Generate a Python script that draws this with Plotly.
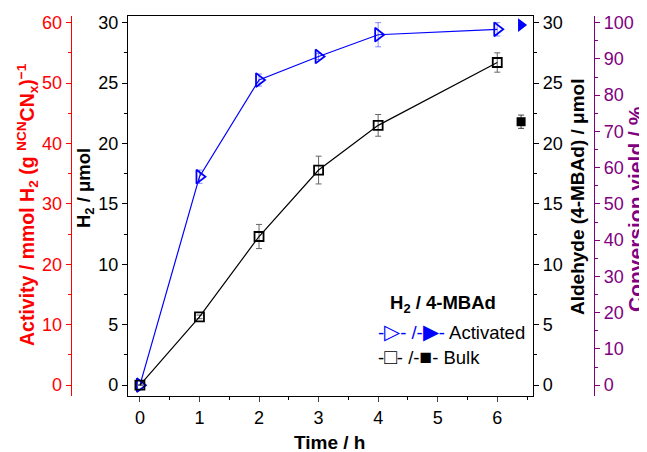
import plotly.graph_objects as go

# Data
time_h = [0, 1, 2, 3, 4, 6]
h2_activated = [0, 17.25, 25.25, 27.2, 29.0, 29.45]
h2_activated_err = [0, 0.55, 0.5, 0.25, 1.0, 0.55]
h2_bulk = [0, 5.65, 12.3, 17.8, 21.5, 26.7]
h2_bulk_err = [0, 0.15, 1.0, 1.15, 0.9, 0.8]
ald_time = [6.4]
ald_activated = [29.8]
ald_activated_err = [0.0]
ald_bulk = [21.8]
ald_bulk_err = [0.55]

OFF = 8  # page body margin
W, H = 647 - OFF, 452 - OFF
FONT = "Liberation Sans, Arial, sans-serif"
BLUE = "#0000FF"
RED = "#FF0000"
PURPLE = "#800080"


def px(x):
    return (x - OFF) / W


def py(y):
    return 1 - (y - OFF) / H


x0, x1 = 128, 533
ytop, ybot = 16, 396
yr = [-0.9, 30.55]
TS = 18

fig = go.Figure()
fig.add_trace(go.Scatter(x=time_h, y=h2_activated, mode="lines+markers",
                         line=dict(color=BLUE, width=1.2),
                         marker=dict(symbol="triangle-right-open", size=12, color=BLUE, line=dict(width=1.8, color=BLUE)),
                         error_y=dict(type="data", array=h2_activated_err, color="rgba(60,60,255,0.6)", thickness=1, width=3),
                         showlegend=False))
fig.add_trace(go.Scatter(x=time_h, y=h2_bulk, mode="lines+markers",
                         line=dict(color="black", width=1.2),
                         marker=dict(symbol="square-open", size=9, color="black", line=dict(width=1.8, color="black")),
                         error_y=dict(type="data", array=h2_bulk_err, color="#666666", thickness=1, width=3),
                         showlegend=False))
fig.add_trace(go.Scatter(x=ald_time, y=ald_activated, mode="markers", yaxis="y2",
                         marker=dict(symbol="triangle-right", size=12, color=BLUE),
                         error_y=dict(type="data", array=ald_activated_err, color="rgba(60,60,255,0.6)", thickness=1, width=3),
                         showlegend=False))
fig.add_trace(go.Scatter(x=ald_time, y=ald_bulk, mode="markers", yaxis="y2",
                         marker=dict(symbol="square", size=9, color="black"),
                         error_y=dict(type="data", array=ald_bulk_err, color="#444444", thickness=1, width=3),
                         showlegend=False))
# invisible traces to activate extra axes
fig.add_trace(go.Scatter(x=[0], y=[0], yaxis="y3", mode="markers", marker=dict(opacity=0), showlegend=False, hoverinfo="skip"))
fig.add_trace(go.Scatter(x=[0], y=[0], yaxis="y4", mode="markers", marker=dict(opacity=0), showlegend=False, hoverinfo="skip"))

tickfont = dict(family=FONT, size=TS, color="black")
common_y = dict(showgrid=False, zeroline=False, showline=True, linewidth=1.2, ticks="outside", ticklen=5, tickwidth=1,
                automargin=False)

fig.update_layout(
    width=W, height=H, margin=dict(l=0, r=0, t=0, b=0, autoexpand=False),
    paper_bgcolor="white", plot_bgcolor="white",
    font=dict(family=FONT),
    xaxis=dict(domain=[px(x0), px(x1)], range=[-0.2, 6.6], showgrid=False, zeroline=False, automargin=False,
               showline=True, linecolor="black", linewidth=1.2, mirror=True,
               ticks="outside", ticklen=5, tickwidth=1,
               tickvals=[0, 1, 2, 3, 4, 5, 6],
               minor=dict(ticks="outside", ticklen=3, dtick=0.5, tick0=0, tickcolor="black"),
               tickfont=tickfont, anchor="y"),
    yaxis=dict(domain=[py(ybot), py(ytop)], range=yr, linecolor="black", tickcolor="black",
               dtick=5, tick0=0, minor=dict(ticks="outside", ticklen=3, dtick=2.5, tick0=0, tickcolor="black"),
               tickfont=tickfont, anchor="x", **common_y),
    yaxis2=dict(range=yr, overlaying="y", side="right", anchor="x", linecolor="black", tickcolor="black",
                dtick=5, tick0=0, minor=dict(ticks="outside", ticklen=3, dtick=2.5, tick0=0, tickcolor="black"),
                tickfont=tickfont, **common_y),
    yaxis3=dict(range=[yr[0] * 2, yr[1] * 2], overlaying="y", side="left", anchor="free", position=px(70.7),
                linecolor=RED, tickcolor=RED, dtick=10, tick0=0,
                minor=dict(ticks="outside", ticklen=3, dtick=5, tick0=0, tickcolor=RED),
                tickfont=dict(family=FONT, size=TS, color=RED), **common_y),
    yaxis4=dict(range=[yr[0] * 100 / 30, yr[1] * 100 / 30], overlaying="y", side="right", anchor="free", position=px(594),
                linecolor=PURPLE, tickcolor=PURPLE, dtick=10, tick0=0,
                minor=dict(ticks="outside", ticklen=3, dtick=5, tick0=0, tickcolor=PURPLE),
                tickfont=dict(family=FONT, size=TS, color=PURPLE), **common_y),
)


def ann(text, x, y, color="black", size=19, angle=0, bold=True, xanchor="center"):
    t = f"<b>{text}</b>" if bold else text
    fig.add_annotation(text=t, x=px(x), y=py(y), xref="paper", yref="paper", showarrow=False,
                       textangle=angle, font=dict(family=FONT, size=size, color=color),
                       xanchor=xanchor, yanchor="middle")


ann("Activity / mmol H<sub>2</sub> (g <sup>NCN</sup>CN<sub>x</sub>)<sup>−1</sup>", 27, 205, RED, size=19.5, angle=-90)
ann("H<sub>2</sub> / μmol", 85, 188, size=18.5, angle=-90)
ann("Aldehyde (4-MBAd) / μmol", 577, 197, angle=-90)
ann("Conversion yield / %", 636, 209, PURPLE, size=21, angle=-90)
ann("Time / h", 330, 442)

# legend block
ann("H<sub>2</sub> / 4-MBAd", 443, 304, size=18.5)
ann("<span style='color:#0000FF'>-<span style='font-size:21px'>▷</span>- /-<span style='font-size:21px'>▶</span>-</span> Activated",
    376, 331, size=18.5, bold=False, xanchor="left")
ann("-<span style='font-size:21px'>□</span>- /-<span style='font-size:21px'>■</span>- Bulk", 376, 356, size=18.5, bold=False, xanchor="left")

fig.write_html("out.html")
